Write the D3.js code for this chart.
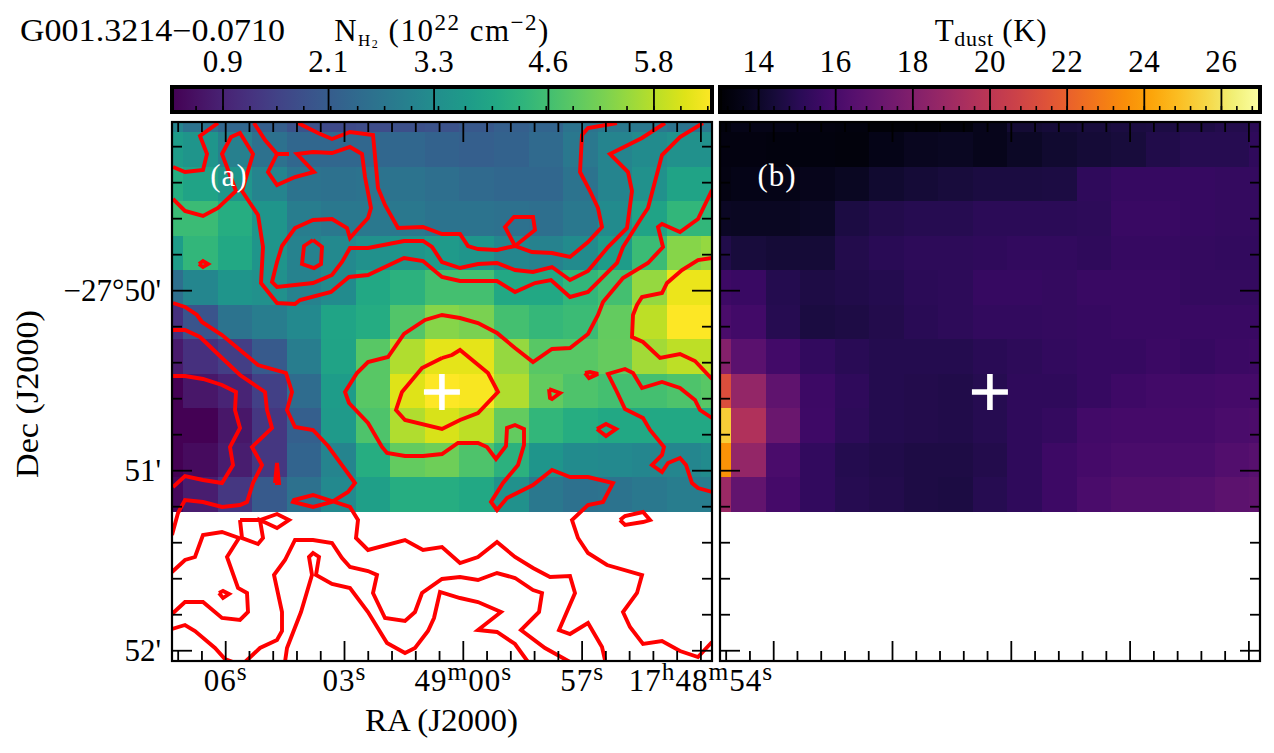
<!DOCTYPE html>
<html><head><meta charset="utf-8">
<script src="https://cdn.jsdelivr.net/npm/d3@7"></script>
<style>html,body{margin:0;padding:0;background:#fff}svg{display:block}text{font-family:"Liberation Serif",serif;fill:#000}</style>
</head><body><svg id="c" width="1274" height="753"></svg>
<script>
// Column density grid (10^22 cm^-2), rows north to south
const columnDensity = [
[3.08,2.65,2.35,2.16,1.86,1.67,1.73,1.79,1.86,1.98,2.16,2.28,2.65,2.78,2.78,2.65,2.78],
[3.7,3.51,2.96,2.59,2.35,2.35,2.35,2.35,2.22,2.16,2.22,2.41,2.78,3.08,3.27,3.39,3.39],
[4.13,3.88,3.51,3.08,2.65,2.59,2.65,2.65,2.53,2.41,2.35,2.35,2.65,3.08,3.39,3.88,3.88],
[4.5,4.5,4.13,3.51,2.9,2.78,2.78,2.78,2.65,2.65,2.59,2.53,2.78,3.27,3.88,4.37,4.37],
[3.7,4.37,4,3.51,3.02,3.21,3.39,3.51,3.64,3.51,3.14,3.02,3.27,3.7,4.5,5.35,5.48],
[2.53,3.14,3.51,3.39,3.02,3.27,4,4.25,4.62,4.62,4,4,4.37,4.62,5.48,6.28,6.28],
[1.18,1.92,2.65,2.9,3.2,3.9,4.1,4.8,5.35,5.23,4.62,4.4,4.5,4.99,5.85,6.46,6.46],
[.75,1.18,1.43,2.04,2.9,3.88,4.86,5.72,6.21,6.21,5.48,4.86,4.86,5.0,5.6,5.85,5.85],
[.32,.69,.93,1.49,2.47,3.7,4.86,6.15,6.46,6.4,5.72,4.99,4.74,4.62,4.62,4.74,4.86],
[.32,.32,.69,1.3,2.16,3.64,4.74,5.72,6.09,5.85,4.99,4.37,4.13,4,4,4,4],
[.32,.5,.81,1.3,2.28,3.08,4.13,4.99,5.11,4.74,4.25,3.51,3.27,3.21,3.14,3.14,3.27],
[.44,.81,1.3,2.04,2.59,3.21,3.76,4.13,4.13,4,3.39,2.78,2.59,2.65,2.78,2.9,2.9]];
// Dust temperature grid (K)
const dustTemperature = [
[13.28,13.56,13.56,13.42,13.35,13.21,13.21,13.28,13.7,14.26,14.4,14.47,14.54,14.61,14.68,14.82,15.1],
[13.42,13.42,13.35,13.35,13.28,13.56,13.77,13.84,13.7,13.98,14.19,14.33,14.47,14.75,14.96,14.96,15.24],
[13.49,13.56,13.56,13.7,13.84,14.19,14.33,14.47,14.54,14.54,14.61,15.24,15.45,15.45,15.45,15.38,15.38],
[13.91,13.84,13.84,13.98,14.61,14.82,14.96,14.96,15.1,15.1,15.1,15.17,15.52,15.52,15.45,15.38,15.38],
[14.75,14.47,14.33,14.33,14.82,15.03,15.17,15.17,15.24,15.31,15.31,15.24,15.45,15.45,15.38,15.31,15.31],
[15.66,15.52,14.89,14.68,14.75,14.89,15.1,15.17,15.45,15.45,15.38,15.52,15.52,15.52,15.38,15.38,15.38],
[16.08,15.8,14.96,14.54,14.68,14.82,15.03,15.17,15.31,15.31,15.38,15.45,15.52,15.52,15.52,15.52,15.52],
[18.04,16.64,15.8,15.31,15.03,14.89,14.89,14.89,15.03,15.17,15.31,15.45,15.45,15.59,15.45,15.59,15.66],
[21.26,18.6,16.78,15.66,15.24,14.89,14.82,14.75,14.96,15.24,15.24,15.45,15.73,15.8,15.8,15.94,15.94],
[25.32,19.58,17.2,15.73,15.17,14.89,14.82,14.75,14.96,15.24,15.38,15.8,15.94,15.94,15.94,16.08,16.15],
[23.64,18.6,16.08,15.31,14.89,14.75,14.68,14.68,14.82,15.24,15.66,15.94,16.08,16.08,16.08,16.36,16.5],
[18.88,16.92,15.94,15.31,14.96,14.82,14.68,14.61,14.96,15.24,15.66,16.08,16.29,16.29,16.43,16.71,16.78]];
// Contour vertices, map offsets from the NE corner in units of 1/3 arcsec
const contourLevels = [
[[46,1],[28,14],[35,32],[31,48],[13,50],[1,45]],
[[1,77],[13,89],[31,94],[46,86],[64,69],[50,32],[59,15],[68,11],[81,32],[70,69],[86,93],[91,125],[89,161],[105,181],[123,182],[128,178],[159,170],[177,155],[196,153],[232,136],[251,139],[270,155],[288,159],[325,159],[343,170],[363,161],[379,158],[398,175],[416,170],[445,141],[451,125],[470,95],[476,86],[490,33],[508,15],[531,1]],
[[82,1],[93,18],[105,32],[117,32]],
[[105,32],[96,50],[105,63],[123,55],[142,50],[125,32],[141,30],[160,31],[178,25],[190,32],[193,55],[199,86],[196,96],[185,108],[178,116],[175,106],[160,97],[141,98],[123,106],[110,124],[105,140],[100,160],[105,165],[141,161],[160,153],[170,140],[178,126],[196,126],[232,119],[251,119],[260,125],[270,140],[288,146],[306,142],[325,141],[343,148],[361,150],[380,145],[398,158],[416,149],[436,125],[455,106],[460,69],[456,50],[438,32],[470,16],[493,1]],
[[141,118],[132,124],[130,142],[142,146],[149,142],[150,125],[141,118]],
[[27,142],[31,139],[36,142],[31,145],[27,142]],
[[126,1],[146,11],[160,17],[178,10],[201,13],[206,66],[213,83],[226,106],[251,105],[270,112],[288,112],[296,124],[306,127],[325,128],[343,124],[360,130],[380,131],[398,135],[416,120],[430,105],[426,86],[418,69],[408,50],[410,13],[416,6],[445,1]],
[[343,124],[333,105],[342,95],[361,95],[363,108],[343,124]],
[[1,181],[13,185],[25,193],[30,200],[50,213],[68,228],[86,243],[114,251],[120,270],[115,288],[123,305],[141,308],[156,324],[183,361],[176,370],[160,380],[141,385],[121,380],[122,378],[141,373],[178,385],[186,398],[184,416],[196,428],[233,418],[251,428],[270,425],[288,441],[306,435],[325,420],[343,435],[361,446],[378,455],[398,454],[403,471],[387,508],[398,512],[416,501],[430,525],[433,538]],
[[1,208],[13,208],[28,215],[50,236],[68,253],[93,270],[95,288],[100,306],[80,325],[90,343],[81,361],[75,380],[68,383],[50,385],[31,380],[13,378],[6,391],[0,413]],
[[1,254],[13,254],[31,257],[50,263],[64,270],[63,288],[68,306],[58,325],[61,343],[50,361],[31,358],[13,354],[1,365]],
[[103,361],[105,341],[107,361],[103,361]],
[[540,68],[526,97],[508,110],[490,102],[486,105],[491,125],[476,141],[451,156],[431,180],[426,193],[416,212],[398,226],[380,227],[361,240],[343,226],[325,211],[306,201],[288,196],[270,193],[253,198],[232,212],[216,235],[196,240],[185,251],[173,270],[177,281],[196,301],[210,325],[215,331],[233,334],[251,334],[270,332],[286,321],[306,321],[315,325],[324,337],[334,324],[335,306],[343,303],[352,307],[352,323],[346,343],[331,361],[319,380],[325,388],[335,376],[361,363],[380,348],[398,355],[416,355],[441,361],[431,380],[416,383],[400,398],[406,416],[416,431],[435,443],[470,453],[465,471],[451,490],[458,505],[471,522],[490,519],[508,529],[526,535],[540,520]],
[[270,236],[250,246],[230,270],[224,288],[233,298],[270,307],[288,298],[306,291],[326,270],[316,251],[288,228],[280,233],[270,236]],
[[540,136],[526,138],[510,148],[495,161],[490,171],[470,175],[465,183],[461,193],[460,215],[471,220],[488,236],[508,232],[523,239],[540,257]],
[[540,296],[528,288],[523,278],[508,266],[490,260],[470,266],[461,251],[453,247],[436,252],[445,270],[453,287],[471,296],[478,308],[492,325],[490,333],[480,343],[490,350],[496,341],[508,336],[514,343],[520,361],[526,366],[540,370]],
[[413,251],[418,250],[426,252],[417,256],[413,251]],
[[377,267],[388,271],[380,277],[378,276],[377,267]],
[[425,307],[434,302],[444,307],[434,314],[425,307]],
[[68,398],[88,398],[105,392],[117,398],[105,406],[88,398],[91,416],[86,422],[70,416],[68,398]],
[[0,450],[13,438],[23,435],[31,413],[50,410],[67,416],[55,435],[66,466],[75,471],[76,490],[68,498],[50,496],[31,480],[13,480],[0,492]],
[[47,471],[51,469],[57,472],[51,476],[47,471]],
[[0,507],[13,503],[23,509],[43,526],[53,537],[61,540]],
[[73,540],[88,526],[105,518],[110,509],[110,490],[102,453],[113,438],[123,418],[141,418],[160,421],[170,436],[178,445],[196,449],[205,453],[201,471],[213,496],[233,499],[243,490],[250,471],[270,457],[288,455],[306,458],[325,451],[343,456],[361,468],[370,471],[367,490],[349,508],[373,526],[398,540]],
[[113,540],[115,526],[129,490],[140,453],[137,435],[141,431],[147,435],[144,453],[160,462],[178,466],[196,490],[215,521],[233,531],[243,526],[256,509],[262,496],[268,470],[288,476],[306,480],[329,490],[306,508],[325,510],[343,522],[356,540]],
[[448,398],[453,394],[471,390],[478,398],[471,400],[453,403],[448,398]]
];
// Axes
const raDomain = [7.356,-6.28];         // seconds from 17h49m00s
const decDomain = [49.063,52.057];      // arcmin south of -27 deg
const raMajor = [6,3,0,-3,-6];
const raMinorStep = 0.6;
const raLabels = [[["06",0],["s",1]],[["03",0],["s",1]],[["49",0],["m",1],["00",0],["s",1]],[["57",0],["s",1]],[["17",0],["h",1],["48",0],["m",1],["54",0],["s",1]]];
const decMajor = [50,51,52];
const decLabels = ["\u221227\u00b050'","51'","52'"];
const decMinorStep = 0.2;
const sourceRA = 0.54, sourceDec = 50.563;
const nDomain = [0.32,6.46], nMajor = [0.9,2.1,3.3,4.6,5.8], nLabels = ["0.9","2.1","3.3","4.6","5.8"];
const tDomain = [13,27], tMajor = [14,16,18,20,22,24,26], tLabels = ["14","16","18","20","22","24","26"];

const svg = d3.select("#c");
const FS = 31;
const panels = [
 {x0:172,x1:712,grid:columnDensity,color:d3.scaleSequential(d3.interpolateViridis).domain(nDomain),tag:"(a)",contours:true},
 {x0:720,x1:1260,grid:dustTemperature,color:d3.scaleSequential(d3.interpolateInferno).domain(tDomain),tag:"(b)",contours:false}
];
const Y0=122,Y1=661;
const yDec = d3.scaleLinear().domain(decDomain).range([Y0,Y1]);
const rowY = d3.scaleLinear().domain([0,11]).range([132,512]); // lower edge of a row
const raTicksAll = d3.range(7.2,-6.3,-raMinorStep).map(v=>+v.toFixed(1));
const decTicksAll = d3.range(49.2,52.01,decMinorStep).map(v=>+v.toFixed(1));

panels.forEach((p,ip)=>{
  const g = svg.append("g");
  const xRA = d3.scaleLinear().domain(raDomain).range([p.x0,p.x1]);
  const colX = d3.scaleLinear().domain([0,15]).range([p.x0+11,p.x0+529.25]);
  const id="clip"+ip;
  svg.append("clipPath").attr("id",id).append("rect").attr("x",p.x0).attr("y",Y0).attr("width",p.x1-p.x0).attr("height",Y1-Y0);
  const cells=g.append("g").attr("clip-path",`url(#${id})`).attr("shape-rendering","crispEdges");
  p.grid.forEach((row,r)=>row.forEach((v,c)=>{
    const xa=colX(c-1),xb=colX(c),ya=rowY(r-1),yb=rowY(r);
    cells.append("rect").attr("x",xa).attr("y",ya).attr("width",xb-xa).attr("height",yb-ya).attr("fill",p.color(v));
  }));
  if(p.contours){
    const cx=d3.scaleLinear().domain([0,540]).range([p.x0,p.x1]);
    const cy=d3.scaleLinear().domain([0,539]).range([Y0,Y1]);
    const line=d3.line().x(d=>cx(d[0])).y(d=>cy(d[1]));
    g.append("g").attr("clip-path",`url(#${id})`).selectAll("path").data(contourLevels).join("path")
      .attr("d",line).attr("fill","none").attr("stroke","#ff0000").attr("stroke-width",3.9).attr("stroke-linejoin","miter").attr("stroke-miterlimit",3);
  }
  // source cross
  const sx=xRA(sourceRA),sy=yDec(sourceDec);
  g.append("path").attr("d",`M${sx-18},${sy}H${sx+18}M${sx},${sy-18}V${sy+18}`).attr("stroke","#fff").attr("stroke-width",5.6).attr("fill","none");
  g.append("text").attr("x",p.x0+57).attr("y",186).attr("text-anchor","middle").attr("font-size",31).attr("letter-spacing",1).style("fill","#fff").text(p.tag);
  // ticks
  const tk=g.append("g").attr("stroke","#000").attr("stroke-width",1.8);
  raTicksAll.forEach(v=>{
    const L=raMajor.includes(v)?20:10, x=xRA(v);
    tk.append("line").attr("x1",x).attr("x2",x).attr("y1",Y0).attr("y2",Y0+L);
    tk.append("line").attr("x1",x).attr("x2",x).attr("y1",Y1).attr("y2",Y1-L);
  });
  decTicksAll.forEach(v=>{
    const L=decMajor.includes(v)?20:10, y=yDec(v);
    tk.append("line").attr("x1",p.x0).attr("x2",p.x0+L).attr("y1",y).attr("y2",y);
    tk.append("line").attr("x1",p.x1).attr("x2",p.x1-L).attr("y1",y).attr("y2",y);
  });
  g.append("rect").attr("x",p.x0).attr("y",Y0).attr("width",p.x1-p.x0).attr("height",Y1-Y0).attr("fill","none").attr("stroke","#000").attr("stroke-width",2.2);
  if(ip===0){
    raMajor.forEach((v,i)=>{
      const t=g.append("text").attr("x",xRA(v)).attr("y",691).attr("text-anchor","middle").attr("font-size",FS).attr("letter-spacing",1);
      let sup=false;
      raLabels[i].forEach(([s,isSup])=>{
        const ts=t.append("tspan").text(s);
        if(isSup){ts.attr("font-size",FS*0.82).attr("dy",sup?0:-11);sup=true;}
        else{ts.attr("dy",sup?11:0);sup=false;}
      });
    });
    decMajor.forEach((v,i)=>g.append("text").attr("x",161).attr("y",yDec(v)+10).attr("text-anchor","end").attr("font-size",FS).text(decLabels[i]));
  }
});
// Axis titles
svg.append("text").attr("x",441.5).attr("y",731).attr("text-anchor","middle").attr("font-size",FS).attr("textLength",153).attr("lengthAdjust","spacingAndGlyphs").text("RA (J2000)");
svg.append("text").attr("transform","translate(38,394) rotate(-90)").attr("text-anchor","middle").attr("font-size",FS).attr("textLength",168).attr("lengthAdjust","spacingAndGlyphs").text("Dec (J2000)");
svg.append("text").attr("x",20).attr("y",41).attr("font-size",FS).attr("textLength",265).attr("lengthAdjust","spacingAndGlyphs").text("G001.3214\u22120.0710");
// Titles with sub/superscripts
const t1=svg.append("text").attr("x",442).attr("y",41).attr("text-anchor","middle").attr("font-size",FS).attr("letter-spacing",1.5);
t1.append("tspan").text("N");
t1.append("tspan").attr("font-size",17).attr("dy",5).text("H");
t1.append("tspan").attr("font-size",12).attr("dy",2).text("2");
t1.append("tspan").attr("dy",-7).text(" (10");
t1.append("tspan").attr("font-size",23).attr("dy",-11).text("22");
t1.append("tspan").attr("dy",11).text(" cm");
t1.append("tspan").attr("font-size",23).attr("dy",-11).text("\u22122");
t1.append("tspan").attr("dy",11).text(")");
const t2=svg.append("text").attr("x",991).attr("y",41).attr("text-anchor","middle").attr("font-size",FS).attr("letter-spacing",0.7);
t2.append("tspan").text("T");
t2.append("tspan").attr("font-size",22).attr("dy",5).text("dust");
t2.append("tspan").attr("dy",-5).text(" (K)");
// Colour bars
const BY0=87,BY1=112;
const bars=[
 {x0:172,x1:712,dom:nDomain,maj:nMajor,lab:nLabels,n:4,col:panels[0].color,id:"gv"},
 {x0:720,x1:1260,dom:tDomain,maj:tMajor,lab:tLabels,n:5,col:panels[1].color,id:"gi"}
];
bars.forEach(b=>{
  const x=d3.scaleLinear().domain(b.dom).range([b.x0,b.x1]);
  const grad=svg.append("linearGradient").attr("id",b.id);
  d3.range(0,1.0001,0.05).forEach(f=>grad.append("stop").attr("offset",f).attr("stop-color",b.col(b.dom[0]+f*(b.dom[1]-b.dom[0]))));
  svg.append("rect").attr("x",b.x0).attr("y",BY0).attr("width",b.x1-b.x0).attr("height",BY1-BY0).attr("fill",`url(#${b.id})`);
  const step=(b.maj[b.maj.length-1]-b.maj[0])/(b.maj.length-1)/b.n;
  let m=[];
  for(let v=b.maj[0];v<b.dom[1];v+=step)m.push(v);
  for(let v=b.maj[0]-step;v>b.dom[0];v-=step)m.push(v);
  m.forEach(v=>svg.append("line").attr("x1",x(v)).attr("x2",x(v)).attr("y1",BY1).attr("y2",BY1-6).attr("stroke","#000").attr("stroke-width",1.6));
  b.maj.forEach((v,i)=>{
    svg.append("line").attr("x1",x(v)).attr("x2",x(v)).attr("y1",BY0).attr("y2",BY1).attr("stroke","#000").attr("stroke-width",1.8);
    svg.append("text").attr("x",x(v)).attr("y",72).attr("text-anchor","middle").attr("font-size",FS).attr("letter-spacing",0.6).text(b.lab[i]);
  });
  svg.append("rect").attr("x",b.x0).attr("y",BY0).attr("width",b.x1-b.x0).attr("height",BY1-BY0).attr("fill","none").attr("stroke","#000").attr("stroke-width",4);
});
</script></body></html>
